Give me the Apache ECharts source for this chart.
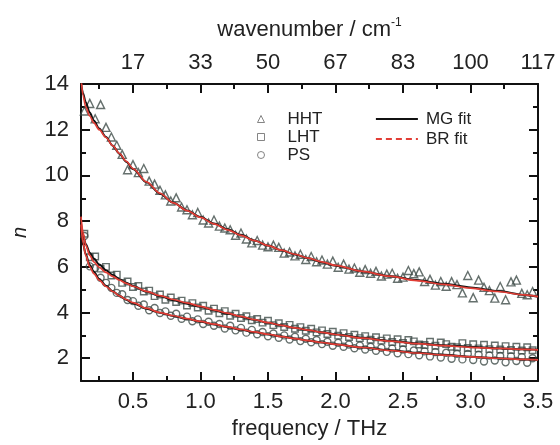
<!DOCTYPE html>
<html><head><meta charset="utf-8">
<script src="https://cdn.jsdelivr.net/npm/echarts@6/dist/echarts.min.js"></script>
<style>html,body{margin:0;padding:0;background:#fff}#c{width:560px;height:445px}</style>
</head><body><div id="c"></div>
<script>
// ---------- data ----------
const freq = [0.14,0.18,0.22,0.26,0.30,0.34,0.38,0.42,0.46,0.50,
  0.54,0.58,0.62,0.66,0.70,0.74,0.78,0.82,0.86,0.90,
  0.94,0.98,1.02,1.06,1.10,1.14,1.18,1.22,1.26,1.30,
  1.34,1.38,1.42,1.46,1.50,1.54,1.58,1.62,1.66,1.70,
  1.74,1.78,1.82,1.86,1.90,1.94,1.98,2.02,2.06,2.10,
  2.14,2.18,2.22,2.26,2.30,2.34,2.38,2.42,2.46,2.50,
  2.54,2.58,2.62,2.66,2.70,2.74,2.78,2.82,2.86,2.90,
  2.94,2.98,3.02,3.06,3.10,3.14,3.18,3.22,3.26,3.30,
  3.34,3.38,3.42,3.46];
const hht = [12.82,13.15,12.48,13.1,12.1,11.68,11.32,10.92,10.25,10.47,
  10.12,10.3,9.75,9.62,9.35,9.15,8.88,9.02,8.62,8.5,
  8.28,8.38,8.05,7.92,8.05,7.78,7.7,7.62,7.38,7.48,
  7.22,7.05,7.15,6.95,6.88,6.95,6.85,6.6,6.65,6.48,
  6.55,6.32,6.45,6.22,6.3,6.12,6.25,5.98,6.12,5.9,
  5.95,5.76,5.88,5.72,5.8,5.6,5.68,5.72,5.5,5.55,
  5.84,5.7,5.78,5.36,5.45,5.2,5.36,5.15,5.35,5.22,
  4.86,5.62,4.65,5.42,5.1,4.96,4.63,5.14,4.56,5.34,
  5.42,4.84,4.78,4.92];
const lht = [7.45,6.42,6.45,5.92,6.0,5.62,5.66,5.3,5.36,5.12,
  5.16,4.92,4.96,4.72,4.79,4.56,4.66,4.46,4.52,4.31,
  4.41,4.22,4.3,4.08,4.17,3.97,4.06,3.86,3.95,3.76,
  3.84,3.66,3.72,3.56,3.64,3.45,3.53,3.37,3.46,3.29,
  3.36,3.2,3.29,3.13,3.22,3.06,3.16,2.99,3.1,2.93,
  3.03,2.88,2.97,2.81,2.92,2.77,2.87,2.71,2.83,2.67,
  2.8,2.74,2.6,2.58,2.72,2.55,2.69,2.62,2.5,2.48,
  2.66,2.45,2.61,2.43,2.59,2.4,2.56,2.38,2.53,2.36,
  2.5,2.34,2.48,2.35];
const ps = [7.35,6.02,5.95,5.52,5.3,5.08,4.86,4.8,4.55,4.5,
  4.3,4.35,4.1,4.2,3.98,4.05,3.86,3.95,3.73,3.82,
  3.62,3.7,3.5,3.6,3.42,3.5,3.3,3.42,3.22,3.33,
  3.12,3.24,3.05,3.15,2.96,3.08,2.9,3.0,2.82,2.94,
  2.75,2.85,2.7,2.8,2.62,2.72,2.55,2.68,2.5,2.6,
  2.44,2.56,2.38,2.5,2.33,2.46,2.28,2.42,2.22,2.38,
  2.18,2.34,2.13,2.3,2.08,2.27,2.03,2.24,1.98,2.2,
  1.95,2.19,1.92,2.15,1.86,2.12,1.9,2.1,1.82,2.08,
  1.88,2.05,1.8,2.0];

const fitFreq = [0.115,0.13,0.15,0.18,0.21,0.25,0.3,0.35,0.4,0.45,
  0.5,0.6,0.7,0.8,0.9,1.0,
  1.1,1.2,1.3,1.4,1.5,1.6,1.7,1.8,1.9,2.0,
  2.2,2.4,2.6,2.8,3.0,3.2,3.4,3.5];
const hhtMG = [14.05,13.6,13.2,12.75,12.4,12.05,11.68,11.3,10.95,10.6,
  10.28,9.7,9.2,8.8,8.47,8.18,
  7.9,7.64,7.4,7.15,6.93,6.73,6.54,6.37,6.2,6.05,
  5.8,5.6,5.42,5.26,5.1,4.94,4.77,4.69];
const hhtBR = [14.3,13.5,13.0,12.6,12.3,12.0,11.66,11.3,10.96,10.62,
  10.3,9.72,9.22,8.8,8.46,8.16,
  7.88,7.62,7.38,7.15,6.93,6.73,6.55,6.38,6.22,6.06,
  5.8,5.59,5.4,5.23,5.07,4.92,4.77,4.7];
const lhtMG = [7.9,7.4,7.0,6.62,6.36,6.1,5.85,5.64,5.46,5.3,
  5.16,4.92,4.72,4.54,4.39,4.25,
  4.1,3.95,3.82,3.68,3.55,3.44,3.33,3.23,3.14,3.05,
  2.9,2.77,2.66,2.57,2.5,2.44,2.39,2.37];
const lhtBR = [8.2,7.5,6.95,6.5,6.22,5.98,5.76,5.58,5.42,5.28,
  5.15,4.93,4.74,4.57,4.42,4.27,
  4.12,3.97,3.83,3.69,3.56,3.44,3.33,3.23,3.13,3.04,
  2.88,2.75,2.64,2.55,2.48,2.43,2.39,2.37];
const psMG = [7.6,7.0,6.55,6.08,5.78,5.47,5.17,4.93,4.73,4.56,
  4.41,4.17,3.99,3.85,3.72,3.6,
  3.48,3.36,3.25,3.14,3.04,2.95,2.86,2.77,2.69,2.61,
  2.47,2.35,2.24,2.15,2.07,2.0,1.95,1.93];
const psBR = [7.85,7.05,6.5,6.0,5.7,5.42,5.14,4.92,4.73,4.57,
  4.43,4.19,4.0,3.86,3.73,3.61,
  3.49,3.37,3.26,3.15,3.05,2.95,2.86,2.77,2.69,2.61,
  2.47,2.34,2.23,2.14,2.06,2.0,1.95,1.93];

const freqTicks = [0.5,1.0,1.5,2.0,2.5,3.0,3.5];
const freqLabels = ['0.5','1.0','1.5','2.0','2.5','3.0','3.5'];
const waveLabels = ['17','33','50','67','83','100','117'];
const freqMinor = [0.25,0.75,1.25,1.75,2.25,2.75,3.25];
const nTicks = [2,4,6,8,10,12,14];
const nLabels = ['2','4','6','8','10','12','14'];
const nMinor = [3,5,7,9,11,13];

// ---------- chart ----------
const FONT = '"Liberation Sans", Arial, Helvetica, sans-serif';
const AX = '#111';
const MK = '#3e4c48';
const RED = '#e23e36';
const pairs = (xs, ys) => xs.map((x, i) => [x, ys[i]]);
const pick = (ticks, labels) => v => {
  const i = ticks.findIndex(t => Math.abs(t - v) < 1e-6);
  return i < 0 ? '' : labels[i];
};
const X0 = 0.115, X1 = 3.5, Y0 = 1, Y1 = 14;

function xAx(pos, major, labels, name, gap) {
  return {
    type: 'value', position: pos, min: X0, max: X1,
    axisLine: { show: !!major, onZero: false, lineStyle: { color: AX, width: 2 } },
    axisTick: { show: true, inside: true, length: major ? 9 : 5,
      customValues: major ? freqTicks : freqMinor, lineStyle: { color: AX, width: 2 } },
    axisLabel: major ? { show: true, customValues: freqTicks, formatter: pick(freqTicks, labels),
      fontSize: 22, color: '#222', fontFamily: FONT, margin: 10 } : { show: false },
    splitLine: { show: false },
    name: name || '', nameLocation: 'middle', nameGap: gap || 0,
    nameTextStyle: { fontSize: 22, color: '#222', fontFamily: FONT,
      rich: { t: { fontSize: 22, color: '#222', fontFamily: FONT },
              s: { fontSize: 12, color: '#222', fontFamily: FONT, padding: [0, 0, 13, 0] } } }
  };
}
function yAx(pos, major, name) {
  return {
    type: 'value', position: pos, min: Y0, max: Y1,
    axisLine: { show: !!major, onZero: false, lineStyle: { color: AX, width: 2 } },
    axisTick: { show: true, inside: true, length: major ? 9 : 5,
      customValues: major ? nTicks : nMinor, lineStyle: { color: AX, width: 2 } },
    axisLabel: (major && pos === 'left') ? { show: true, customValues: nTicks, formatter: pick(nTicks, nLabels),
      fontSize: 22, color: '#222', fontFamily: FONT, margin: 12 } : { show: false },
    splitLine: { show: false },
    name: name || '', nameLocation: 'middle', nameGap: 51, nameRotate: 90,
    nameTextStyle: { fontSize: 20, fontStyle: 'italic', color: '#222', fontFamily: FONT }
  };
}

const scatter = (name, ys, symbol, size) => ({
  name, type: 'scatter', data: pairs(freq, ys), symbol, symbolSize: size,
  itemStyle: { color: 'rgba(255,255,255,0)', borderColor: MK, borderWidth: 1.4 },
  z: 2, silent: true
});
const line = (name, ys, color, width) => ({
  name, type: 'line', data: pairs(fitFreq, ys), symbol: 'none', showSymbol: false,
  smooth: 0.3, smoothMonotone: 'x', clip: true,
  lineStyle: { color, width }, itemStyle: { color }, z: 3, silent: true
});

const chart = echarts.init(document.getElementById('c'), null, { renderer: 'canvas' });
chart.setOption({
  animation: false,
  backgroundColor: '#fff',
  grid: { left: 81, right: 22, top: 84, bottom: 57 },
  xAxis: [
    xAx('bottom', true, freqLabels, 'frequency / THz', 36),
    xAx('top', true, waveLabels, '{t|wavenumber / cm}{s|-1}', 42),
    xAx('bottom', false),
    xAx('top', false)
  ],
  yAxis: [
    yAx('left', true, 'n'),
    yAx('right', true),
    yAx('left', false),
    yAx('right', false)
  ],
  legend: [
    { orient: 'vertical', left: 257, top: 110, padding: 0, itemWidth: 7, itemHeight: 7, itemGap: 0,
      selectedMode: false, data: ['HHT', 'LHT', 'PS'],
      itemStyle: { borderColor: '#666', borderWidth: 1 },
      textStyle: { fontSize: 17, color: '#222', fontFamily: FONT, lineHeight: 18, padding: [0, 0, 0, 18] } },
    { orient: 'vertical', left: 375, top: 110, padding: 0, itemWidth: 42, itemHeight: 10, itemGap: 2,
      selectedMode: false,
      itemStyle: { color: 'rgba(0,0,0,0)', borderColor: 'rgba(0,0,0,0)', borderWidth: 0, opacity: 0 },
      data: [
        { name: 'MG fit', lineStyle: { type: 'solid', width: 1.8, color: '#111' } },
        { name: 'BR fit', lineStyle: { type: [6, 4], width: 1.8, color: RED } }
      ],
      textStyle: { fontSize: 17, color: '#222', fontFamily: FONT, lineHeight: 18, padding: [0, 0, 0, 3] } }
  ],
  series: [
    scatter('HHT', hht, 'triangle', 8),
    scatter('LHT', lht, 'rect', 6.5),
    scatter('PS', ps, 'circle', 7),
    line('MG fit', hhtMG, '#111', 2),
    line('MG fit', lhtMG, '#111', 2),
    line('MG fit', psMG, '#111', 2),
    line('BR fit', hhtBR, RED, 1.7),
    line('BR fit', lhtBR, RED, 1.7),
    line('BR fit', psBR, RED, 1.7)
  ]
});
</script>
</body></html>
